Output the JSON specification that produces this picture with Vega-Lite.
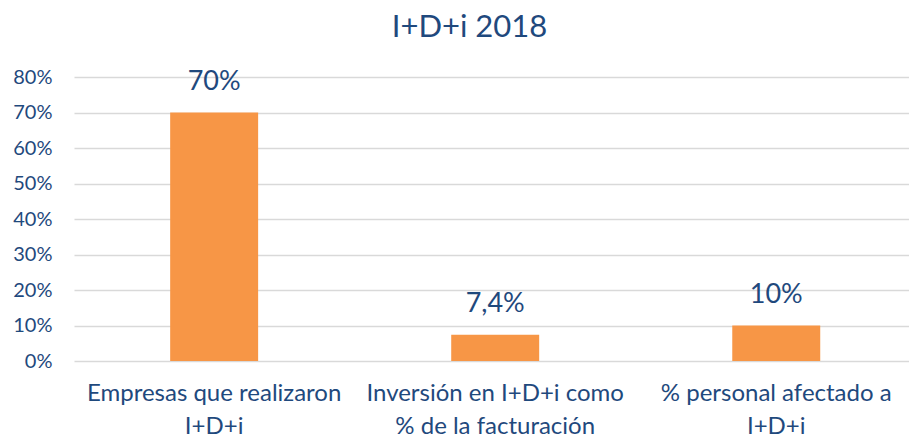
{
  "$schema": "https://vega.github.io/schema/vega-lite/v6.json",
  "autosize": {"type": "none"},
  "width": 835,
  "height": 284,
  "padding": {"left": 74, "top": 77, "right": 0, "bottom": 76},
  "background": "white",
  "title": {"text": "I+D+i 2018", "fontSize": 31, "font": "Lato", "fontWeight": "normal", "color": "#1F497D", "anchor": "middle", "dx": -22, "offset": 23},
  "data": {"values": [
    {"cat": "Empresas que realizaron I+D+i", "value": 0.70, "label": "70%"},
    {"cat": "Inversión en I+D+i como % de la facturación", "value": 0.074, "label": "7,4%"},
    {"cat": "% personal afectado a I+D+i", "value": 0.10, "label": "10%"}
  ]},
  "encoding": {
    "x": {"field": "cat", "type": "nominal", "sort": null,
      "scale": {"paddingInner": 0.687, "paddingOuter": 0.329, "align": 0.52},
      "axis": {"title": null, "labelAngle": 0, "domain": false, "ticks": false, "labelPadding": 20,
        "labelFont": "Lato", "labelFontSize": 24, "labelColor": "#1F497D", "labelLineHeight": 33, "labelLimit": 400,
        "labelExpr": "datum.value == 'Empresas que realizaron I+D+i' ? ['Empresas que realizaron', 'I+D+i'] : datum.value == 'Inversión en I+D+i como % de la facturación' ? ['Inversión en I+D+i como', '% de la facturación'] : ['% personal afectado a', 'I+D+i']"}},
    "y": {"field": "value", "type": "quantitative",
      "scale": {"domain": [0, 0.8], "nice": false},
      "axis": {"title": null, "values": [0, 0.1, 0.2, 0.3, 0.4, 0.5, 0.6, 0.7, 0.8], "format": ".0%",
        "domain": false, "ticks": false, "labelPadding": 22, "labelFont": "Lato", "labelFontSize": 20, "labelColor": "#1F497D",
        "gridColor": "#D9D9D9", "gridWidth": 1.5}}
  },
  "layer": [
    {"mark": {"type": "bar", "color": "#F79646"}},
    {"mark": {"type": "text", "baseline": "bottom", "dy": -17, "font": "Lato", "fontSize": 27, "color": "#1F497D"},
     "encoding": {"text": {"field": "label"}}}
  ],
  "config": {"view": {"stroke": null}}
}
